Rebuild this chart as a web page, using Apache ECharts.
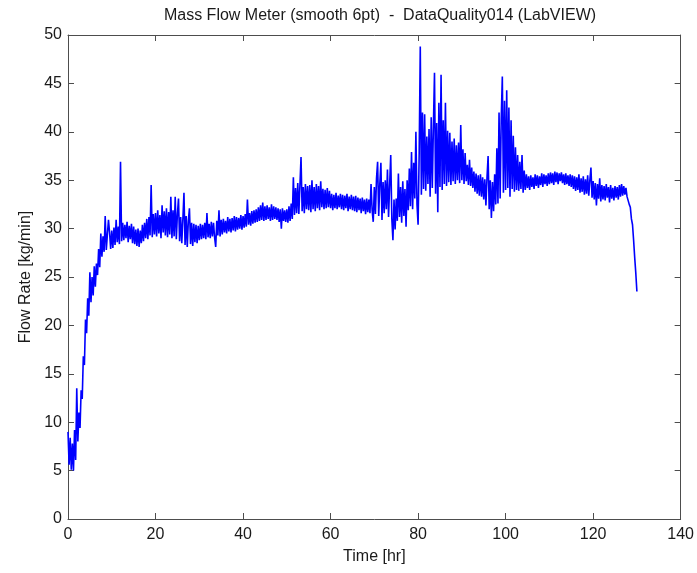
<!DOCTYPE html>
<html>
<head>
<meta charset="utf-8">
<title>Mass Flow Meter</title>
<script src="https://cdn.jsdelivr.net/npm/echarts@6/dist/echarts.min.js"></script>
<style>
  html, body { margin: 0; padding: 0; background: #fff; }
  #chart { width: 697px; height: 573px; }
</style>
</head>
<body>
<div id="chart"></div>
<script>
// Sample spacing of the logged flow readings (hours)
const timeStepHr = 0.25;

// Smoothed mass flow readings [kg/min], one row per 5 hours of logging
const flowRate = [
  // 0 - 5 hr
  9.0, 5.6, 8.4, 5.1, 7.8, 5.0, 9.2, 6.1, 13.5, 8.0, 11.0, 9.4, 13.3, 12.4, 16.8, 15.9, 20.6, 19.2, 22.8, 21.0,
  // 5 - 10 hr
  25.5, 22.4, 25.0, 23.1, 26.1, 24.0, 26.4, 25.2, 27.9, 26.0, 29.5, 27.1, 29.2, 27.6, 31.3, 27.8, 29.4, 30.9, 29.6, 27.9,
  // 10 - 15 hr
  29.8, 28.0, 30.1, 28.3, 30.9, 28.6, 30.2, 28.4, 36.9, 28.7, 30.6, 28.8, 30.4, 29.0, 30.7, 28.6, 30.3, 28.9, 30.5, 28.5,
  // 15 - 20 hr
  30.2, 28.4, 29.9, 28.2, 30.0, 28.1, 29.8, 28.5, 30.4, 28.7, 30.6, 29.0, 31.0, 28.9, 31.2, 29.3, 34.5, 29.1, 31.5, 29.4,
  // 20 - 25 hr
  31.6, 29.2, 31.9, 29.5, 31.4, 29.0, 32.4, 29.6, 31.8, 29.3, 32.1, 29.1, 31.7, 29.4, 33.3, 29.0, 31.9, 29.2, 33.3, 28.9,
  // 25 - 30 hr
  31.5, 33.1, 28.7, 31.2, 28.5, 31.0, 33.7, 28.3, 31.3, 28.1, 30.8, 32.1, 28.4, 30.6, 28.2, 30.5, 28.6, 30.4, 28.5, 30.3,
  // 30 - 35 hr
  28.8, 30.5, 28.9, 30.4, 29.0, 30.6, 28.9, 31.6, 29.1, 30.5, 29.0, 30.7, 29.2, 30.6, 29.1, 28.1, 30.8, 29.3, 31.9, 29.2,
  // 35 - 40 hr
  30.9, 29.4, 31.0, 29.6, 30.8, 29.5, 31.2, 29.7, 31.0, 29.6, 31.1, 29.8, 31.3, 29.7, 31.2, 29.9, 31.1, 30.0, 31.4, 29.9,
  // 40 - 45 hr
  31.3, 30.1, 31.5, 30.2, 33.0, 30.4, 31.6, 30.3, 31.8, 30.5, 31.9, 30.6, 32.0, 30.7, 32.2, 30.8, 32.4, 30.9, 32.7, 30.8,
  // 45 - 50 hr
  32.3, 30.9, 32.4, 31.0, 32.2, 30.8, 32.5, 30.9, 32.3, 31.0, 32.2, 30.9, 32.1, 30.7, 32.0, 30.0, 32.1, 30.8, 31.9, 30.7,
  // 50 - 55 hr
  32.0, 30.6, 32.3, 30.8, 32.6, 31.0, 35.3, 31.4, 34.2, 31.6, 34.7, 31.5, 34.5, 37.4, 31.8, 34.3, 31.6, 34.6, 32.0, 34.4,
  // 55 - 60 hr
  31.9, 34.5, 31.7, 35.0, 32.0, 34.3, 31.8, 34.6, 32.1, 34.4, 31.9, 34.9, 32.2, 34.1, 32.0, 34.0, 32.1, 34.2, 32.2, 33.9,
  // 60 - 65 hr
  32.1, 33.6, 31.9, 33.5, 32.1, 33.7, 32.0, 33.4, 32.2, 33.6, 32.0, 33.5, 31.9, 33.4, 32.1, 33.6, 31.8, 33.3, 32.0, 33.5,
  // 65 - 70 hr
  31.9, 33.3, 31.8, 33.4, 31.7, 33.2, 31.9, 33.1, 31.6, 33.2, 31.8, 33.0, 31.5, 33.1, 31.7, 33.0, 31.6, 34.6, 31.9, 30.7,
  // 70 - 75 hr
  34.3, 31.5, 35.2, 36.9, 31.3, 34.6, 36.8, 30.9, 34.8, 31.6, 35.0, 32.0, 36.1, 31.2, 34.5, 37.6, 31.0, 28.8, 33.0, 29.9,
  // 75 - 80 hr
  33.1, 30.8, 35.7, 31.2, 34.3, 30.6, 34.9, 31.3, 34.1, 30.2, 35.0, 31.9, 36.2, 32.3, 37.9, 32.0, 36.8, 33.1, 40.0, 32.5,
  // 80 - 85 hr
  30.4, 37.8, 48.8, 33.5, 42.0, 34.1, 41.8, 33.9, 39.5, 34.6, 40.3, 33.3, 41.5, 34.2, 40.6, 46.1, 33.6, 40.9, 31.7, 43.0,
  // 85 - 90 hr
  34.3, 45.9, 34.0, 41.2, 34.6, 43.0, 34.4, 40.1, 34.8, 39.9, 34.5, 39.0, 34.9, 39.3, 34.6, 38.6, 35.0, 38.9, 34.7, 40.7,
  // 90 - 95 hr
  35.0, 38.2, 34.6, 37.8, 34.9, 36.6, 34.5, 37.1, 34.4, 36.3, 34.2, 35.9, 33.8, 35.7, 33.6, 35.5, 33.4, 35.6, 33.3, 35.3,
  // 95 - 100 hr
  33.0, 35.1, 32.4, 35.3, 37.5, 32.0, 35.0, 31.1, 34.8, 31.8, 35.6, 32.5, 38.3, 32.6, 42.0, 33.1, 41.4, 45.7, 33.7, 43.2,
  // 100 - 105 hr
  34.0, 44.3, 34.2, 42.5, 33.3, 41.2, 34.1, 39.6, 33.8, 38.4, 34.0, 37.6, 33.9, 36.9, 34.1, 37.6, 33.7, 36.0, 34.0, 35.6,
  // 105 - 110 hr
  34.2, 35.4, 34.0, 35.5, 34.3, 35.3, 34.1, 35.6, 34.4, 35.5, 34.2, 35.4, 34.5, 35.7, 34.3, 35.6, 34.6, 35.5, 34.4, 35.7,
  // 110 - 115 hr
  34.6, 35.8, 34.7, 35.7, 34.5, 35.9, 34.8, 35.8, 34.6, 35.7, 34.9, 35.8, 34.7, 35.6, 34.5, 35.7, 34.6, 35.5, 34.4, 35.6,
  // 115 - 120 hr
  34.3, 35.5, 34.1, 35.4, 33.9, 35.3, 34.0, 35.6, 33.7, 35.2, 33.8, 35.4, 33.5, 35.1, 33.6, 35.5, 33.4, 35.0, 36.3, 33.2,
  // 120 - 125 hr
  34.9, 33.0, 34.7, 32.4, 34.6, 33.1, 35.2, 32.8, 34.5, 33.0, 34.4, 32.9, 34.6, 33.2, 34.3, 32.7, 34.5, 33.1, 34.2, 32.9,
  // 125 - 130 hr
  34.4, 33.2, 34.3, 33.0, 34.5, 33.3, 34.6, 33.4, 34.4, 33.5, 34.2, 33.3, 33.4, 32.5, 32.2, 31.0, 30.4, 28.8, 27.0, 25.4,
  // 130 hr
  23.5
];

// Axis ticks
const timeTicks = [0, 20, 40, 60, 80, 100, 120, 140];
const flowTicks = [0, 5, 10, 15, 20, 25, 30, 35, 40, 45, 50];

const seriesData = flowRate.map((v, i) => [i * timeStepHr, v]);

const FONT = '"Liberation Sans", Arial, Helvetica, sans-serif';
const AXIS_COLOR = '#4d4d4d';
const TEXT_COLOR = '#1a1a1a';

const chart = echarts.init(document.getElementById('chart'), null, { renderer: 'canvas' });

const xCommon = {
  type: 'value',
  min: timeTicks[0],
  max: timeTicks[timeTicks.length - 1],
  interval: timeTicks[1] - timeTicks[0],
  splitLine: { show: false },
  axisLine: { show: true, onZero: false, lineStyle: { color: AXIS_COLOR, width: 1 } },
  axisTick: { show: true, inside: true, length: 6, lineStyle: { color: AXIS_COLOR } }
};
const yCommon = {
  type: 'value',
  min: flowTicks[0],
  max: flowTicks[flowTicks.length - 1],
  interval: flowTicks[1] - flowTicks[0],
  splitLine: { show: false },
  axisLine: { show: true, onZero: false, lineStyle: { color: AXIS_COLOR, width: 1 } },
  axisTick: { show: true, inside: true, length: 6, lineStyle: { color: AXIS_COLOR } }
};

chart.setOption({
  animation: false,
  backgroundColor: '#ffffff',
  title: {
    text: 'Mass Flow Meter (smooth 6pt)  -  DataQuality014 (LabVIEW)',
    left: 375,
    textAlign: 'center',
    top: 3,
    textStyle: { fontFamily: FONT, fontSize: 16, fontWeight: 'normal', color: TEXT_COLOR }
  },
  grid: { left: 68, right: 15, top: 35, bottom: 54, containLabel: false },
  xAxis: [
    Object.assign({}, xCommon, {
      position: 'bottom',
      name: 'Time [hr]',
      nameLocation: 'middle',
      nameGap: 30,
      nameTextStyle: { fontFamily: FONT, fontSize: 16, color: TEXT_COLOR },
      axisLabel: { show: true, margin: 8, fontFamily: FONT, fontSize: 16, color: TEXT_COLOR }
    }),
    Object.assign({}, xCommon, { position: 'top', axisLabel: { show: false } })
  ],
  yAxis: [
    Object.assign({}, yCommon, {
      position: 'left',
      name: 'Flow Rate [kg/min]',
      nameLocation: 'middle',
      nameGap: 34,
      nameRotate: 90,
      nameTextStyle: { fontFamily: FONT, fontSize: 16, color: TEXT_COLOR },
      axisLabel: { show: true, margin: 6, fontFamily: FONT, fontSize: 16, color: TEXT_COLOR }
    }),
    Object.assign({}, yCommon, { position: 'right', axisLabel: { show: false } })
  ],
  series: [{
    type: 'line',
    xAxisIndex: 0,
    yAxisIndex: 0,
    data: seriesData,
    showSymbol: false,
    symbol: 'none',
    smooth: false,
    sampling: null,
    lineStyle: { color: '#0000ff', width: 1.6, join: 'bevel' },
    emphasis: { disabled: true }
  }]
});
</script>
</body>
</html>
